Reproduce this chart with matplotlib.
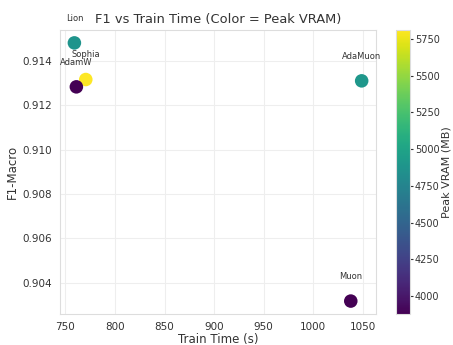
import matplotlib
matplotlib.use("Agg")
import matplotlib.pyplot as plt
import seaborn as sns

optimizers = ["Lion", "Sophia", "AdamW", "AdaMuon", "Muon"]
train_time = [759, 770.5, 761, 1049, 1038]
f1_macro = [0.91481, 0.91316, 0.91283, 0.91310, 0.90318]
peak_vram = [4880, 5811, 3878, 4900, 3880]

sns.set_style("whitegrid")
plt.rcParams['font.family'] = ['DejaVu Sans']

fig = plt.figure(figsize=(4.53, 3.45), dpi=100)
ax = fig.add_axes([0.1325, 0.0899, 0.6976, 0.8232])
cax = fig.add_axes([0.8742, 0.0899, 0.0309, 0.8232])
sc = ax.scatter(train_time, f1_macro, c=peak_vram, cmap="viridis", s=95,
                edgecolors="none", zorder=3)
for name, x, y in zip(optimizers, train_time, f1_macro):
    ax.annotate(name, (x, y), textcoords="offset points", xytext=(0, 16),
                ha="center", fontsize=6, color="#333333")
cb = fig.colorbar(sc, cax=cax)
cb.set_label("Peak VRAM (MB)", fontsize=8, color="#333333", labelpad=1)
cb.ax.tick_params(labelsize=7, colors="#333333", length=2, pad=1.5)
cb.outline.set_edgecolor("#dddddd")
ax.set_title("F1 vs Train Time (Color = Peak VRAM)", fontsize=9.4, color="#333333", pad=5)
ax.set_xlabel("Train Time (s)", fontsize=8.5, color="#333333", labelpad=1)
ax.set_ylabel("F1-Macro", fontsize=8.5, color="#333333", labelpad=3)
ax.tick_params(labelsize=7.5, colors="#333333", pad=2)
for s in ax.spines.values():
    s.set_color("#dddddd")
ax.grid(color="#eeeeee")
fig.savefig("out.png", dpi=100)
